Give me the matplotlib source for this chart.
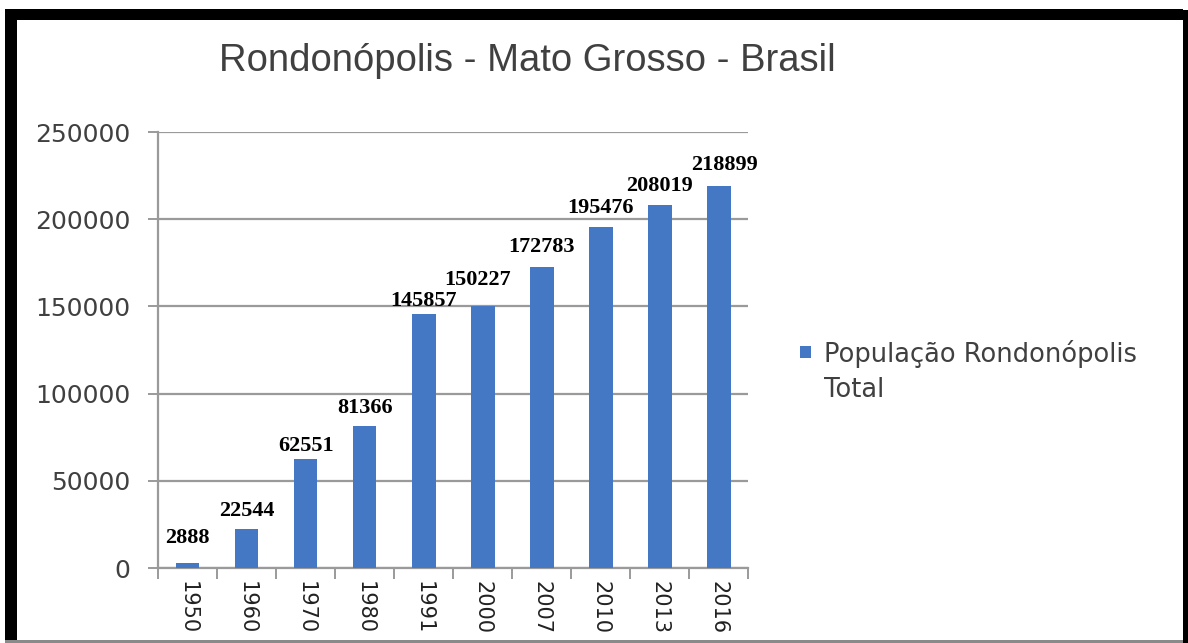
import matplotlib.pyplot as plt
from matplotlib.patches import Rectangle

# População total de Rondonópolis por ano de levantamento
anos = ['1950', '1960', '1970', '1980', '1991', '2000', '2007', '2010', '2013', '2016']
populacao = [2888, 22544, 62551, 81366, 145857, 150227, 172783, 195476, 208019, 218899]
y_ticks = [0, 50000, 100000, 150000, 200000, 250000]

# deslocamento (px) de cada rótulo de valor em relação ao topo da barra
desloc_x = [0, 0, 0, 0, 0, -5, 0, 0, 0, 6]
desloc_y = [15, 8, 3, 8, 3, 16, 10, 9, 9, 11]

cor_barra = '#4478C4'
cor_grade = '#9a9a9a'
cor_texto = '#404040'

fig = plt.figure(figsize=(11.88, 6.43), dpi=100)
ax = fig.add_axes([0.133, 0.1166, 0.497, 0.6781])

x = list(range(len(anos)))
ax.bar(x, populacao, width=0.4, color=cor_barra, zorder=3)

# rótulos de valor sobre cada barra
for xi, v, dx, dy in zip(x, populacao, desloc_x, desloc_y):
    ax.annotate(str(v), (xi, v), xytext=(dx, dy), textcoords='offset pixels',
                ha='center', va='bottom', fontsize=16, fontweight='bold',
                family='Liberation Serif', color='black', zorder=4)

ax.set_xlim(-0.5, len(anos) - 0.5)
ax.set_ylim(0, 250000)
ax.set_yticks(y_ticks)
ax.set_yticklabels([str(t) for t in y_ticks], fontsize=18, color=cor_texto, family='DejaVu Sans')
ax.yaxis.grid(True, color=cor_grade, linewidth=1.6, zorder=0)
ax.tick_params(axis='y', length=7, width=1.4, color=cor_grade, pad=13)

# anos girados, lidos de cima para baixo
ax.set_xticks(x)
ax.set_xticklabels(anos, rotation=270, fontsize=15, color='#222222', family='DejaVu Sans')
ax.tick_params(axis='x', which='major', length=0, pad=9)
ax.set_xticks([i - 0.5 for i in range(len(anos) + 1)], minor=True)
ax.tick_params(axis='x', which='minor', length=8, width=1.4, color=cor_grade)

for lado in ['top', 'right']:
    ax.spines[lado].set_visible(False)
for lado in ['left', 'bottom']:
    ax.spines[lado].set_color(cor_grade)
    ax.spines[lado].set_linewidth(1.6)

fig.text(0.444, 0.905, 'Rondonópolis - Mato Grosso - Brasil', ha='center', va='center',
         fontsize=27.5, color=cor_texto, family='Liberation Sans')

# legenda
fig.patches.append(Rectangle((0.673, 0.443), 0.0095, 0.019, transform=fig.transFigure,
                             facecolor=cor_barra, edgecolor='none'))
fig.text(0.694, 0.471, 'População Rondonópolis\nTotal', ha='left', va='top',
         fontsize=18.5, color=cor_texto, family='DejaVu Sans', linespacing=1.45)

# moldura preta em volta da figura
fig.patches.append(Rectangle((0.004, 0.0), 0.0105, 0.985, transform=fig.transFigure,
                             facecolor='black', edgecolor='none'))
fig.patches.append(Rectangle((0.004, 0.969), 0.992, 0.017, transform=fig.transFigure,
                             facecolor='black', edgecolor='none'))
fig.patches.append(Rectangle((0.9955, 0.0), 0.0045, 0.985, transform=fig.transFigure,
                             facecolor='black', edgecolor='none'))
fig.patches.append(Rectangle((0.004, 0.0), 0.992, 0.004, transform=fig.transFigure,
                             facecolor='#8a8a8a', edgecolor='none'))

fig.savefig('out.png', dpi=100)
